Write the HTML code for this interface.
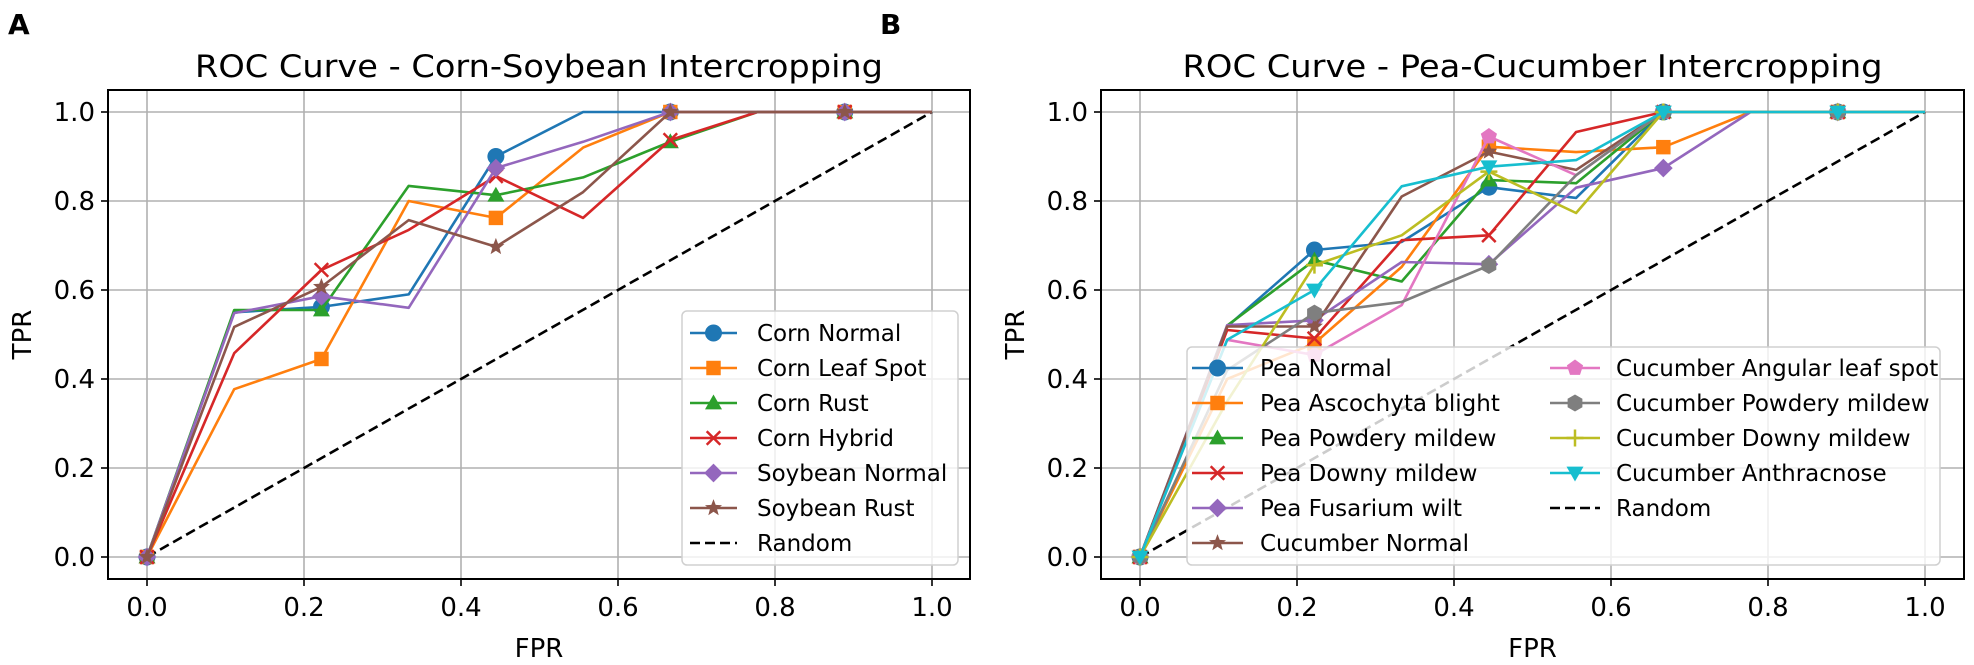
<!DOCTYPE html>
<html><head><meta charset="utf-8"><style>
html,body{margin:0;padding:0;background:#fff;}
svg{display:block;font-family:"DejaVu Sans","Liberation Sans",sans-serif;}
</style></head><body>
<svg id="fig" width="1974" height="665" viewBox="0 0 1974 665" xmlns="http://www.w3.org/2000/svg">
<text x="8" y="34" font-size="28" font-weight="bold">A</text>
<text x="880" y="34" font-size="28" font-weight="bold">B</text>
</svg>
<script>
const fprPoints = [0, 1/9, 2/9, 3/9, 4/9, 5/9, 6/9, 7/9, 8/9, 1];
const tickValues = [0, 0.2, 0.4, 0.6, 0.8, 1.0];
const tickLabels = ["0.0","0.2","0.4","0.6","0.8","1.0"];

const namesA = ["Corn Normal","Corn Leaf Spot","Corn Rust","Corn Hybrid","Soybean Normal","Soybean Rust"];
const cornNormal   = [0,0.55,0.562,0.59,0.90,1,1,1,1,1];
const cornLeafSpot = [0,0.377,0.445,0.80,0.762,0.92,1,1,1,1];
const cornRust     = [0,0.555,0.555,0.834,0.813,0.853,0.933,1,1,1];
const cornHybrid   = [0,0.458,0.645,0.735,0.856,0.762,0.937,1,1,1];
const soyNormal    = [0,0.548,0.586,0.56,0.874,0.933,1,1,1,1];
const soyRust      = [0,0.517,0.607,0.757,0.697,0.82,1,1,1,1];

const namesB = ["Pea Normal","Pea Ascochyta blight","Pea Powdery mildew","Pea Downy mildew","Pea Fusarium wilt","Cucumber Normal","Cucumber Angular leaf spot","Cucumber Powdery mildew","Cucumber Downy mildew","Cucumber Anthracnose"];
const peaNormal    = [0,0.518,0.69,0.708,0.831,0.807,1,1,1,1];
const peaAscochyta = [0,0.40,0.48,0.652,0.922,0.91,0.921,1,1,1];
const peaPowdery   = [0,0.52,0.667,0.619,0.847,0.84,1,1,1,1];
const peaDowny     = [0,0.51,0.491,0.712,0.723,0.955,1,1,1,1];
const peaFusarium  = [0,0.521,0.532,0.663,0.658,0.83,0.874,1,1,1];
const cucNormal    = [0,0.518,0.518,0.81,0.911,0.87,1,1,1,1];
const cucAngular   = [0,0.488,0.454,0.566,0.945,0.858,1,1,1,1];
const cucPowdery   = [0,0.42,0.548,0.573,0.655,0.858,1,1,1,1];
const cucDowny     = [0,0.35,0.656,0.723,0.866,0.773,1,1,1,1];
const cucAnthrac   = [0,0.488,0.60,0.833,0.877,0.892,1,1,1,1];

const colors = ["#1f77b4","#ff7f0e","#2ca02c","#d62728","#9467bd","#8c564b","#e377c2","#7f7f7f","#bcbd22","#17becf"];
const markers = ["o","s","^","x","D","*","p","h","+","v"];

const NS="http://www.w3.org/2000/svg";
const svg=document.getElementById('fig');
function mk(tag,attrs,parent){const e=document.createElementNS(NS,tag);for(const k in attrs)e.setAttribute(k,attrs[k]);(parent||svg).appendChild(e);return e;}

function marker(g,type,cx,cy,color,size){
  let e;const r=size;
  if(type==="o"){e=mk('circle',{cx,cy,r:r,fill:color},g);}
  else if(type==="s"){e=mk('rect',{x:cx-r*0.85,y:cy-r*0.85,width:r*1.7,height:r*1.7,fill:color},g);}
  else if(type==="^"){e=mk('polygon',{points:`${cx},${cy-r} ${cx-r},${cy+r*0.75} ${cx+r},${cy+r*0.75}`,fill:color},g);}
  else if(type==="v"){e=mk('polygon',{points:`${cx},${cy+r} ${cx-r},${cy-r*0.75} ${cx+r},${cy-r*0.75}`,fill:color},g);}
  else if(type==="x"){e=mk('path',{d:`M${cx-r*0.8},${cy-r*0.8}L${cx+r*0.8},${cy+r*0.8}M${cx-r*0.8},${cy+r*0.8}L${cx+r*0.8},${cy-r*0.8}`,stroke:color,'stroke-width':2.5,fill:'none'},g);}
  else if(type==="+"){e=mk('path',{d:`M${cx-r},${cy}L${cx+r},${cy}M${cx},${cy-r}L${cx},${cy+r}`,stroke:color,'stroke-width':2.5,fill:'none'},g);}
  else if(type==="D"){e=mk('polygon',{points:`${cx},${cy-r*1.1} ${cx+r*1.1},${cy} ${cx},${cy+r*1.1} ${cx-r*1.1},${cy}`,fill:color},g);}
  else if(type==="*"||type==="p"||type==="h"){
    let pts=[];
    if(type==="*"){for(let i=0;i<10;i++){const a=-Math.PI/2+i*Math.PI/5;const rr=i%2?r*0.45:r*1.05;pts.push((cx+rr*Math.cos(a)).toFixed(1)+","+(cy+rr*Math.sin(a)).toFixed(1));}}
    else{const n=type==="p"?5:6;for(let i=0;i<n;i++){const a=-Math.PI/2+i*2*Math.PI/n;pts.push((cx+r*Math.cos(a)).toFixed(1)+","+(cy+r*Math.sin(a)).toFixed(1));}}
    e=mk('polygon',{points:pts.join(' '),fill:color},g);
  }
  return e;
}

function panel(cfg){
  const {left,right,top,bottom,x0,x1,y0,y1,title,series,names,pid}=cfg;
  const X=v=>x0+v*(x1-x0), Y=v=>y0+v*(y1-y0);
  const g=mk('g',{});
  
  
  // grid
  tickValues.forEach((t,i)=>{
    const gx=mk('line',{x1:X(t),x2:X(t),y1:top,y2:bottom,stroke:'#b0b0b0','stroke-width':1.6},g);
    
    
    const gy=mk('line',{x1:left,x2:right,y1:Y(t),y2:Y(t),stroke:'#b0b0b0','stroke-width':1.6},g);
    
    
    mk('line',{x1:X(t),x2:X(t),y1:bottom,y2:bottom+7,stroke:'#000','stroke-width':1.6},g);
    mk('line',{x1:left-7,x2:left,y1:Y(t),y2:Y(t),stroke:'#000','stroke-width':1.6},g);
    const tx=mk('text',{x:X(t),y:616,'font-size':26,'text-anchor':'middle'},g);tx.textContent=tickLabels[i];
    
    
    const ty=mk('text',{x:left-13,y:Y(t)+9,'font-size':26,'text-anchor':'end'},g);ty.textContent=tickLabels[i];
    
    
  });
  // random line
  const rl=mk('line',{x1:X(0),y1:Y(0),x2:X(1),y2:Y(1),stroke:'#000','stroke-width':2.6,'stroke-dasharray':'10,5'},g);
  
  
  // series
  series.forEach((vals,si)=>{
    const pts=vals.map((v,i)=>X(fprPoints[i]).toFixed(1)+","+Y(v).toFixed(1)).join(' ');
    const sg=mk('g',{},g);
    
    
    mk('polyline',{points:pts,fill:'none',stroke:colors[si],'stroke-width':2.6,'stroke-linejoin':'round'},sg);
    vals.forEach((v,i)=>{ if(i%2===0) marker(sg,markers[si],X(fprPoints[i]),Y(v),colors[si],8.5); });
  });
  // axes frame
  const fr=mk('rect',{x:left,y:top,width:right-left,height:bottom-top,fill:'none',stroke:'#000','stroke-width':2},g);
  
  
  const tt=mk('text',{x:(left+right)/2,y:77,'font-size':31,'text-anchor':'middle',textLength:cfg.titleLen,lengthAdjust:'spacingAndGlyphs'},g);tt.textContent=title;
  
  
  const xl=mk('text',{x:(left+right)/2,y:657,'font-size':26,'text-anchor':'middle'},g);xl.textContent="FPR";
  
  
  const yl=mk('text',{x:0,y:0,'font-size':26,'text-anchor':'middle',transform:`translate(${left-77},${(top+bottom)/2}) rotate(-90)`},g);yl.textContent="TPR";
  
  
  return {g,X,Y};
}

function legend(g,pid,box,cols){
  const lg=mk('g',{},g);
  
  
  mk('rect',{x:box.x,y:box.y,width:box.w,height:box.h,rx:5,fill:'#fff','fill-opacity':0.8,stroke:'#d0d0d0','stroke-width':1.5},lg);
  cols.forEach(col=>{
    col.items.forEach((it,k)=>{
      const y=col.y0+k*35;
      const eg=mk('g',{},lg);
      
      
      if(it.idx<0){mk('line',{x1:col.hx,x2:col.hx+col.hw,y1:y,y2:y,stroke:'#000','stroke-width':2.6,'stroke-dasharray':'10,5'},eg);}
      else{mk('line',{x1:col.hx,x2:col.hx+col.hw,y1:y,y2:y,stroke:colors[it.idx],'stroke-width':2.6},eg);
        marker(eg,markers[it.idx],col.hx+col.hw/2,y,colors[it.idx],8.5);}
      const t=mk('text',{x:col.tx,y:y+8,'font-size':23},eg);t.textContent=it.name;
    });
  });
}

const A=panel({pid:'panel-a',left:108,right:970,top:90,bottom:579,x0:147,x1:932,y0:557,y1:112,
  title:"ROC Curve - Corn-Soybean Intercropping",titleLen:688,
  series:[cornNormal,cornLeafSpot,cornRust,cornHybrid,soyNormal,soyRust],names:namesA});
legend(A.g,'panel-a',{x:682,y:311,w:276,h:254},[{hx:690,hw:47,tx:757,y0:333,
  items:namesA.map((n,i)=>({name:n,idx:i})).concat([{name:"Random",idx:-1}])}]);

const B=panel({pid:'panel-b',left:1101,right:1964,top:90,bottom:579,x0:1140,x1:1925,y0:557,y1:112,
  title:"ROC Curve - Pea-Cucumber Intercropping",titleLen:700,
  series:[peaNormal,peaAscochyta,peaPowdery,peaDowny,peaFusarium,cucNormal,cucAngular,cucPowdery,cucDowny,cucAnthrac],names:namesB});
legend(B.g,'panel-b',{x:1187,y:347,w:753,h:218},[
  {hx:1192,hw:51,tx:1260,y0:368,items:namesB.slice(0,6).map((n,i)=>({name:n,idx:i}))},
  {hx:1550,hw:50,tx:1616,y0:368,items:namesB.slice(6).map((n,i)=>({name:n,idx:i+6})).concat([{name:"Random",idx:-1}])}
]);
</script>
</body></html>
